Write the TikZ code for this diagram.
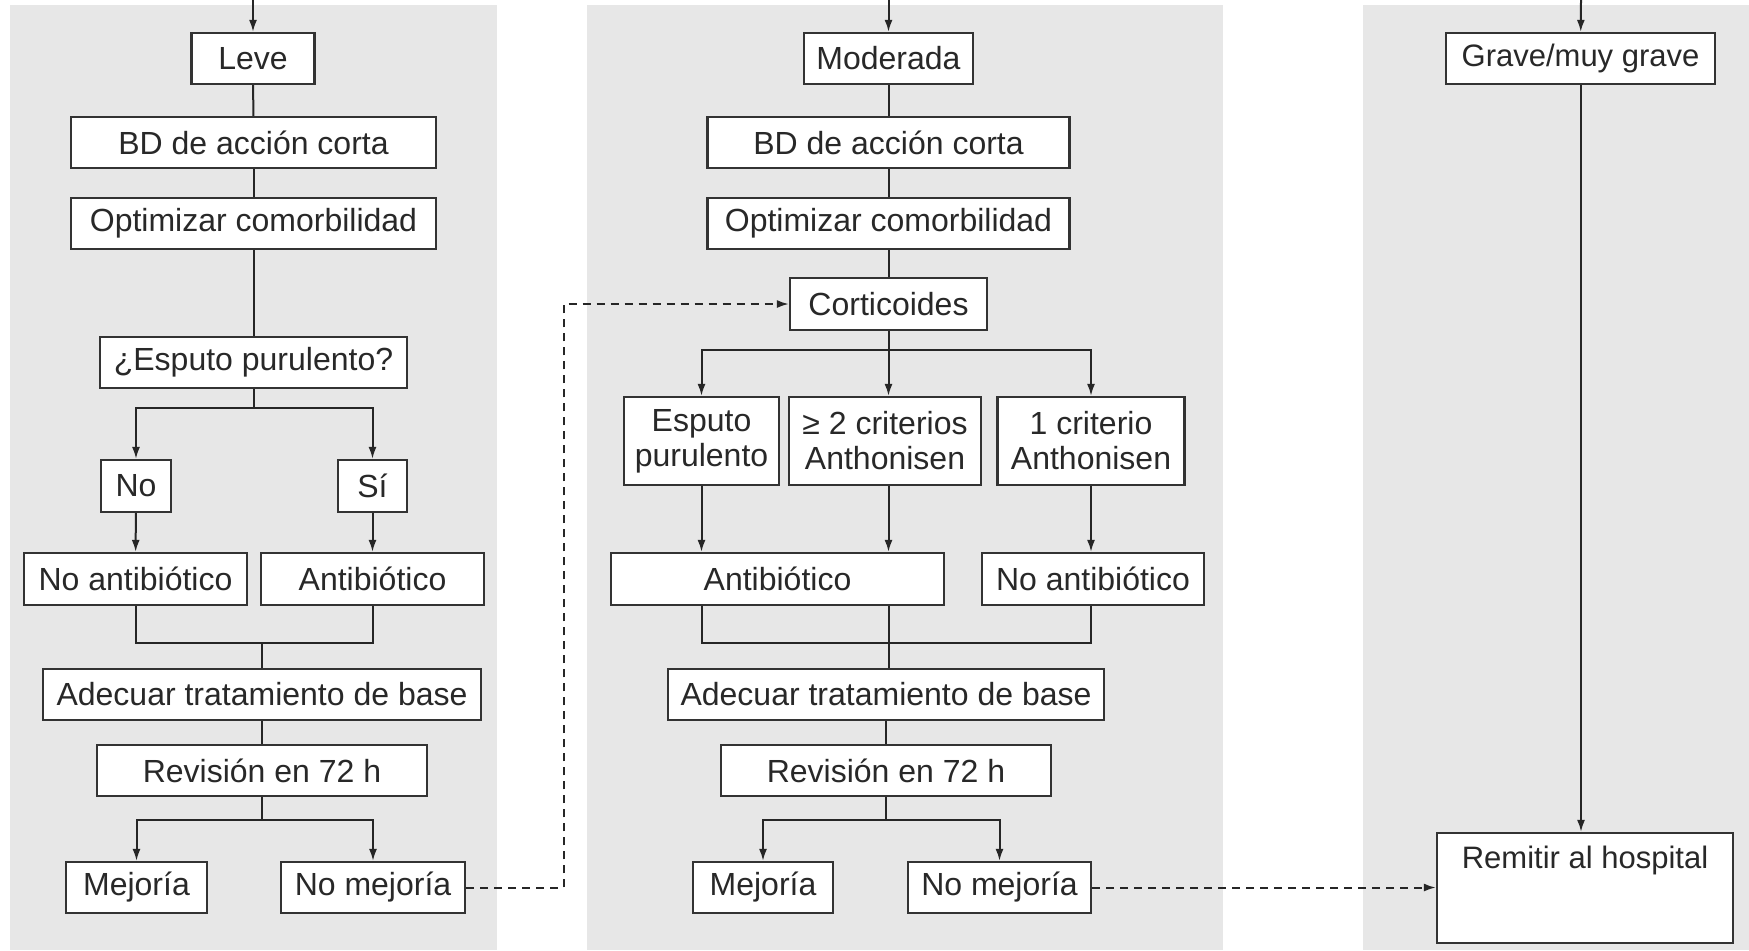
\documentclass[tikz,border=0pt]{standalone}
\usepackage{fontspec}
\setmainfont{Liberation Sans}
\usetikzlibrary{arrows.meta}
\definecolor{fondo}{RGB}{231,231,231}
\definecolor{texto}{RGB}{40,40,40}
\tikzset{every picture/.style={line width=1pt},
	caja/.style={draw=black!80, fill=white, line width=1.1pt, minimum height=25.5pt, inner sep=0pt, font=\fontsize{16}{17.5}\selectfont, text=texto},
	flecha/.style={draw=black!85, -{Latex[length=6pt,width=4pt]}},
	linea/.style={draw=black!85},
	discont/.style={flecha, dash pattern=on 4pt off 3pt}}

\begin{document}
\begin{tikzpicture}[x=0.5pt,y=0.5pt,yscale=-1,xscale=1]
	\useasboundingbox (0,0) rectangle (1749,950);
	
	%Shape: panels
	\fill[fondo] (10,5) rectangle (497,950);
	\fill[fondo] (587,5) rectangle (1223,950);
	\fill[fondo] (1363,5) rectangle (1749,950);
	
	% Leve
	\coordinate (inL) at (253,0);
	\node[caja, minimum width=61.5pt] (leve) at (253,58.5) {Leve};
	\node[caja, minimum width=182.5pt] (bdL) at (253.5,142.5) {BD de acción corta};
	\node[caja, minimum width=182.5pt] (optL) at (253.5,223.5) {Optimizar comorbilidad};
	\node[caja, minimum width=153.5pt] (espL) at (253.5,362.5) {¿Esputo purulento?};
	\node[caja, minimum width=35pt, minimum height=26pt] (noL) at (136,486) {No};
	\node[caja, minimum width=34.5pt, minimum height=26pt] (siL) at (372.5,486) {Sí};
	\node[caja, minimum width=111.5pt, minimum height=26pt] (noabL) at (135.5,579) {No antibiótico};
	\node[caja, minimum width=111.5pt, minimum height=26pt] (abL) at (372.5,579) {Antibiótico};
	\node[caja, minimum width=219pt] (adeL) at (262,694.5) {Adecuar tratamiento de base};
	\node[caja, minimum width=165pt] (revL) at (262,770.5) {Revisión en 72 h};
	\node[caja, minimum width=70.5pt] (mejL) at (136.5,887.5) {Mejoría};
	\node[caja, minimum width=92pt] (nomejL) at (373,887.5) {No mejoría};
	
	%Straight Lines
	\draw[flecha] (inL) -- (leve);
	\draw[linea] (leve) -- (bdL);
	\draw[linea] (bdL) -- (optL);
	\draw[linea] (optL) -- (espL);
	\coordinate (brL) at (253.5,408);
	\draw[linea] (espL) -- (brL);
	\draw[flecha] (brL) -| (noL.north);
	\draw[flecha] (brL) -| (siL.north);
	\draw[flecha] (noL) -- (noabL);
	\draw[flecha] (siL) -- (abL);
	\coordinate (mgL) at (262,643);
	\draw[linea] (noabL.south) |- (mgL) -| (abL.south);
	\draw[linea] (mgL) -- (adeL);
	\draw[linea] (adeL) -- (revL);
	\coordinate (brL2) at (262,820);
	\draw[linea] (revL) -- (brL2);
	\draw[flecha] (brL2) -| (mejL.north);
	\draw[flecha] (brL2) -| (nomejL.north);
	
	% Moderada
	\coordinate (inM) at (888.5,0);
	\node[caja, minimum width=84.5pt] (mod) at (888.5,58.5) {Moderada};
	\node[caja, minimum width=181pt] (bdM) at (888.5,142.5) {BD de acción corta};
	\node[caja, minimum width=181pt] (optM) at (888.5,223.5) {Optimizar comorbilidad};
	\node[caja, minimum width=98.5pt, minimum height=26pt] (cort) at (888.5,304) {Corticoides};
	\node[caja, minimum width=77.5pt, minimum height=44pt, align=center] (espM) at (701.5,441) {Esputo\\purulento};
	\node[caja, minimum width=96pt, minimum height=44pt, align=center] (critM) at (885,441) {≥ 2 criterios\\Anthonisen};
	\node[caja, minimum width=93.5pt, minimum height=44pt, align=center] (unoM) at (1091,441) {1 criterio\\Anthonisen};
	\node[caja, minimum width=166.5pt, minimum height=26pt] (abM) at (777.5,579) {Antibiótico};
	\node[caja, minimum width=111pt, minimum height=26pt] (noabM) at (1093,579) {No antibiótico};
	\node[caja, minimum width=218pt] (adeM) at (886,694.5) {Adecuar tratamiento de base};
	\node[caja, minimum width=165pt] (revM) at (886,770.5) {Revisión en 72 h};
	\node[caja, minimum width=70pt] (mejM) at (763,887.5) {Mejoría};
	\node[caja, minimum width=91.5pt] (nomejM) at (999.5,887.5) {No mejoría};
	
	%Straight Lines
	\draw[flecha] (inM) -- (mod);
	\draw[linea] (mod) -- (bdM);
	\draw[linea] (bdM) -- (optM);
	\draw[linea] (optM) -- (cort);
	\coordinate (brM) at (888.5,350);
	\draw[linea] (cort) -- (brM);
	\draw[flecha] (brM) -| (espM.north);
	\draw[flecha] (brM) -- (brM |- critM.north);
	\draw[flecha] (brM) -| (unoM.north);
	\draw[flecha] (espM.south) -- (espM.south |- abM.north);
	\draw[flecha] (critM.south -| brM) -- (brM |- abM.north);
	\draw[flecha] (unoM.south) -- (unoM.south |- noabM.north);
	\coordinate (mgM) at (888.5,643);
	\draw[linea] (espM.south |- abM.south) |- (mgM) -| (unoM.south |- noabM.south);
	\draw[linea] (brM |- abM.south) -- (mgM);
	\draw[linea] (mgM) -- (mgM |- adeM.north);
	\draw[linea] (adeM) -- (revM);
	\coordinate (brM2) at (886,820);
	\draw[linea] (revM) -- (brM2);
	\draw[flecha] (brM2) -| (mejM.north);
	\draw[flecha] (brM2) -| (nomejM.north);
	
	% Grave
	\coordinate (inG) at (1581,0);
	\node[caja, minimum width=134.5pt, font=\fontsize{15.5}{17}\selectfont] (grave) at (1580.5,58.5) {Grave/muy grave};
	\node[caja, minimum width=148pt, inner ysep=0pt, text height=17.5pt, text depth=37.5pt, font=\fontsize{15.5}{17}\selectfont] (remitir) at (1585,888) {Remitir al hospital};
	
	%Straight Lines
	\draw[flecha] (inG) -- (grave);
	\draw[flecha] (grave.south -| inG) -- (inG |- remitir.north);
	
	%Dashed Lines
	\coordinate (vuelta) at (564,304);
	\draw[discont] (nomejL.east) -| (vuelta) -- (cort.west);
	\draw[discont] (nomejM.east) -- (nomejM.east -| remitir.west);
	
\end{tikzpicture}
\end{document}
